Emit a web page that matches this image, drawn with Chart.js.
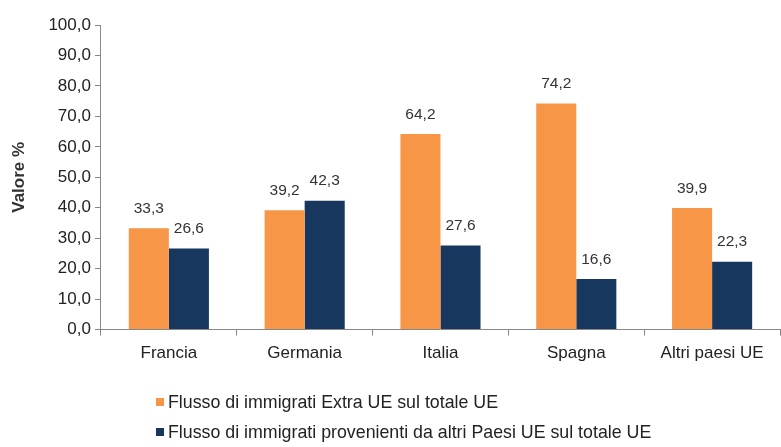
<!DOCTYPE html>
<html>
<head>
<meta charset="utf-8">
<script src="https://cdn.jsdelivr.net/npm/chart.js@4/dist/chart.umd.min.js"></script>
<style>
  body { margin: 0; background: #fff; }
  #wrap { position: relative; width: 781px; height: 447px; }
  .leg { position: absolute; left: 156px; font: 17.8px "Liberation Sans", Arial, sans-serif; line-height: 20px; color: #222; white-space: nowrap; }
  .leg span { display: inline-block; width: 8px; height: 8px; margin-right: 4px; vertical-align: 2px; }
</style>
</head>
<body>
<div id="wrap">
  <canvas id="myChart" width="781" height="447"></canvas>
  <div class="leg" id="leg1" style="top:392px"><span style="background:#F79646"></span>Flusso di immigrati Extra UE sul totale UE</div>
  <div class="leg" id="leg2" style="top:422px"><span style="background:#17375E"></span>Flusso di immigrati provenienti da altri Paesi UE sul totale UE</div>
</div>
<script>
// categories and values
const paesi = ['Francia', 'Germania', 'Italia', 'Spagna', 'Altri paesi UE'];
const extraUE = [33.3, 39.2, 64.2, 74.2, 39.9];
const altriUE = [26.6, 42.3, 27.6, 16.6, 22.3];
const serieNomi = ['Flusso di immigrati Extra UE sul totale UE', 'Flusso di immigrati provenienti da altri Paesi UE sul totale UE'];

const fontFam = '"Liberation Sans", Arial, sans-serif';
const fmt = v => v.toFixed(1).replace('.', ',');

// draws the value above each bar
const valueLabels = {
  id: 'valueLabels',
  afterDatasetsDraw(chart) {
    const ctx = chart.ctx;
    ctx.save();
    ctx.font = '15.5px ' + fontFam;
    ctx.fillStyle = '#333';
    ctx.textAlign = 'center';
    ctx.textBaseline = 'bottom';
    chart.data.datasets.forEach((ds, i) => {
      chart.getDatasetMeta(i).data.forEach((bar, j) => {
        ctx.fillText(fmt(ds.data[j]), bar.x, bar.y - 12);
      });
    });
    ctx.restore();
  }
};

const ctx = document.getElementById('myChart').getContext('2d');
const chart = new Chart(ctx, {
  type: 'bar',
  data: {
    labels: paesi,
    datasets: [
      { label: serieNomi[0], data: extraUE, backgroundColor: '#F79646' },
      { label: serieNomi[1], data: altriUE, backgroundColor: '#17375E' }
    ]
  },
  options: {
    responsive: false,
    animation: false,
    layout: { padding: { top: 25, right: 1, bottom: 75, left: 9 } },
    plugins: {
      legend: { display: false },
      tooltip: { enabled: false }
    },
    datasets: { bar: { categoryPercentage: 0.59, barPercentage: 1 } },
    scales: {
      x: {
        grid: { display: true, drawOnChartArea: false, offset: true, tickLength: 6, color: '#888' },
        border: { color: '#888' },
        ticks: { color: '#222', font: { family: fontFam, size: 17 }, padding: 8 }
      },
      y: {
        min: 0,
        max: 100,
        ticks: { stepSize: 10, color: '#222', font: { family: fontFam, size: 17 }, padding: 4, callback: v => fmt(v) },
        grid: { display: true, drawOnChartArea: false, tickLength: 6, color: '#888' },
        border: { color: '#888' },
        title: { display: true, text: 'Valore %', color: '#333', font: { family: fontFam, size: 17, weight: 'bold' }, padding: { top: 0, bottom: 15 } }
      }
    }
  },
  plugins: [valueLabels]
});
</script>
</body>
</html>
